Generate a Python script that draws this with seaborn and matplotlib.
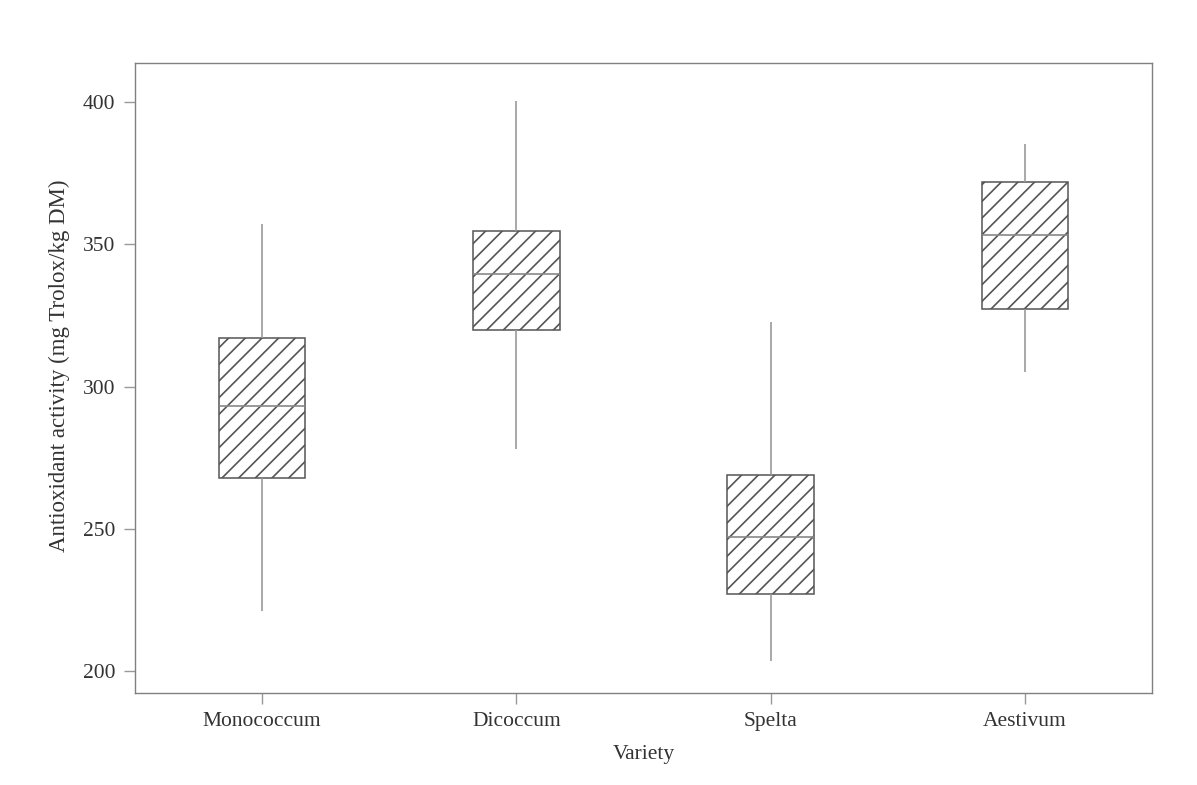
import matplotlib
matplotlib.use("Agg")
import matplotlib.pyplot as plt
import seaborn as sns
import pandas as pd

# Five-number summaries (min, Q1, median, Q3, max)
varieties = ["Monococcum", "Dicoccum", "Spelta", "Aestivum"]
monococcum = [221, 268, 293, 317, 357]
dicoccum = [278, 320, 339.5, 354.5, 400.5]
spelta = [203.7, 227, 247, 269, 322.7]
aestivum = [305, 327.2, 353.1, 371.8, 385.2]

values = [monococcum, dicoccum, spelta, aestivum]
df = pd.DataFrame({
    "Variety": [v for v, vals in zip(varieties, values) for _ in vals],
    "Activity": [x for vals in values for x in vals],
})

sns.set_theme(style="white")
plt.rcParams["font.family"] = ["Liberation Serif", "DejaVu Serif"]
plt.rcParams["hatch.linewidth"] = 1.2

fig = plt.figure(figsize=(11.97, 7.85), dpi=100)
ax = fig.add_axes([0.1128, 0.1172, 0.8496, 0.8025])

sns.boxplot(data=df, x="Variety", y="Activity", order=varieties, ax=ax,
            whis=(0, 100), showcaps=False, width=0.34, color="white",
            linecolor="#555555", linewidth=1.1,
            whiskerprops=dict(color="#999999", linewidth=1.2),
            medianprops=dict(color="#888888", linewidth=1.2),
            boxprops=dict(facecolor="white", edgecolor="#555555"))

for p in ax.patches:
    p.set_hatch("//")
    p.set_edgecolor("#555555")

ax.set_xlim(-0.5, 3.5)
ax.set_ylim(192.3, 413.7)
ax.set_yticks([200, 250, 300, 350, 400])

for s in ax.spines.values():
    s.set_visible(True)
    s.set_color("#808080")
    s.set_linewidth(1.0)

ax.tick_params(axis="both", which="major", direction="out", length=8,
               width=1.0, color="#999999", labelsize=15.5, labelcolor="#333333",
               left=True, bottom=True, pad=6)

ax.set_xlabel("Variety", fontsize=15.5, color="#333333", labelpad=10)
ax.set_ylabel("Antioxidant activity (mg Trolox/kg DM)", fontsize=16.5,
              color="#333333")
ax.yaxis.set_label_coords(-0.074, 0.52)
ax.yaxis.label.set_verticalalignment("center")

fig.savefig("out.png", dpi=100)
